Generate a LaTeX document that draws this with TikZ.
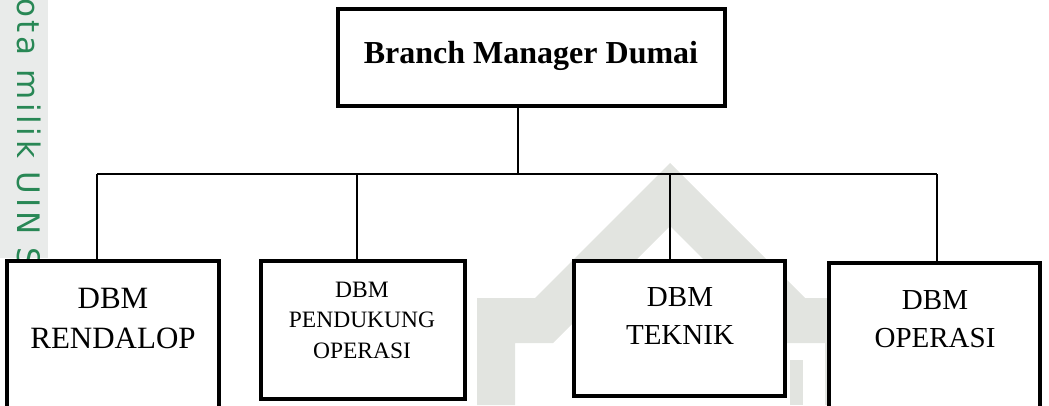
\documentclass[tikz,border=0pt]{standalone}
\usepackage{fontspec}
\setmainfont{Liberation Serif}
\newfontfamily\wmfont[LetterSpace=12]{DejaVu Sans}
\definecolor{wmgreen}{RGB}{40,135,85}
\definecolor{stripgray}{RGB}{233,235,234}
\definecolor{logogray}{RGB}{226,228,224}
\begin{document}
\begin{tikzpicture}[x=1pt,y=-1pt,
  box/.style={draw=black,line width=4.5pt,fill=white,rectangle,inner sep=0pt},
  conn/.style={draw=black,line width=1.3pt},
  lbl/.style={align=center,inner sep=0pt,text=black}]
\useasboundingbox (0,0) rectangle (1049,405);
\clip (0,0) rectangle (1049,405);
% watermark
\fill[stripgray] (0,0) rectangle (48,258);
\node[rotate=-90,anchor=base west,text=wmgreen,font=\wmfont\fontsize{31}{36}\selectfont,inner sep=0pt] (wm) at (17,-2) {ota milik UIN S};
\fill[logogray] (670,163) -- (535,298) -- (477,298) -- (477,405) -- (515,405) -- (515,343) -- (553,343) -- (670,226)
  -- (787,343) -- (825,343) -- (825,405) -- (863,405) -- (863,298) -- (805,298) -- cycle;
\fill[logogray] (790,360) rectangle (803,405);
% boxes
\node[box,minimum width=387pt,minimum height=97pt] (top) at (531.5,57.5) {};
\node[box,minimum width=212pt,minimum height=159pt] (R) at (113,340.5) {};
\node[box,minimum width=204pt,minimum height=138pt] (P) at (363,330) {};
\node[box,minimum width=211pt,minimum height=135pt] (T) at (679.5,328.5) {};
\node[box,minimum width=211pt,minimum height=157pt] (O) at (934.5,341.5) {};
% texts
\node[lbl,anchor=base,font=\bfseries\fontsize{32}{38}\selectfont] (toptxt) at (531,63) {Branch Manager Dumai};
\node[lbl,font=\fontsize{31}{40}\selectfont] (Rtxt) at (113,318) {DBM\\RENDALOP};
\node[lbl,font=\fontsize{23.5}{30.5}\selectfont] (Ptxt) at (362,320) {DBM\\PENDUKUNG\\OPERASI};
\node[lbl,font=\fontsize{29}{38}\selectfont] (Ttxt) at (680,316) {DBM\\TEKNIK};
\node[lbl,font=\fontsize{29}{38}\selectfont] (Otxt) at (935,319) {DBM\\OPERASI};
% connectors
\coordinate (tj) at (518,174);
\coordinate (rj) at (97,174);
\coordinate (pj) at (357,174);
\coordinate (kj) at (670,174);
\coordinate (oj) at (937,174);
\draw[conn] (top.south -| tj) -- (tj);
\draw[conn] (rj) -- (oj);
\draw[conn] (rj) -- (rj |- R.north);
\draw[conn] (pj) -- (pj |- P.north);
\draw[conn] (kj) -- (kj |- T.north);
\draw[conn] (oj) -- (oj |- O.north);
\end{tikzpicture}
\end{document}
